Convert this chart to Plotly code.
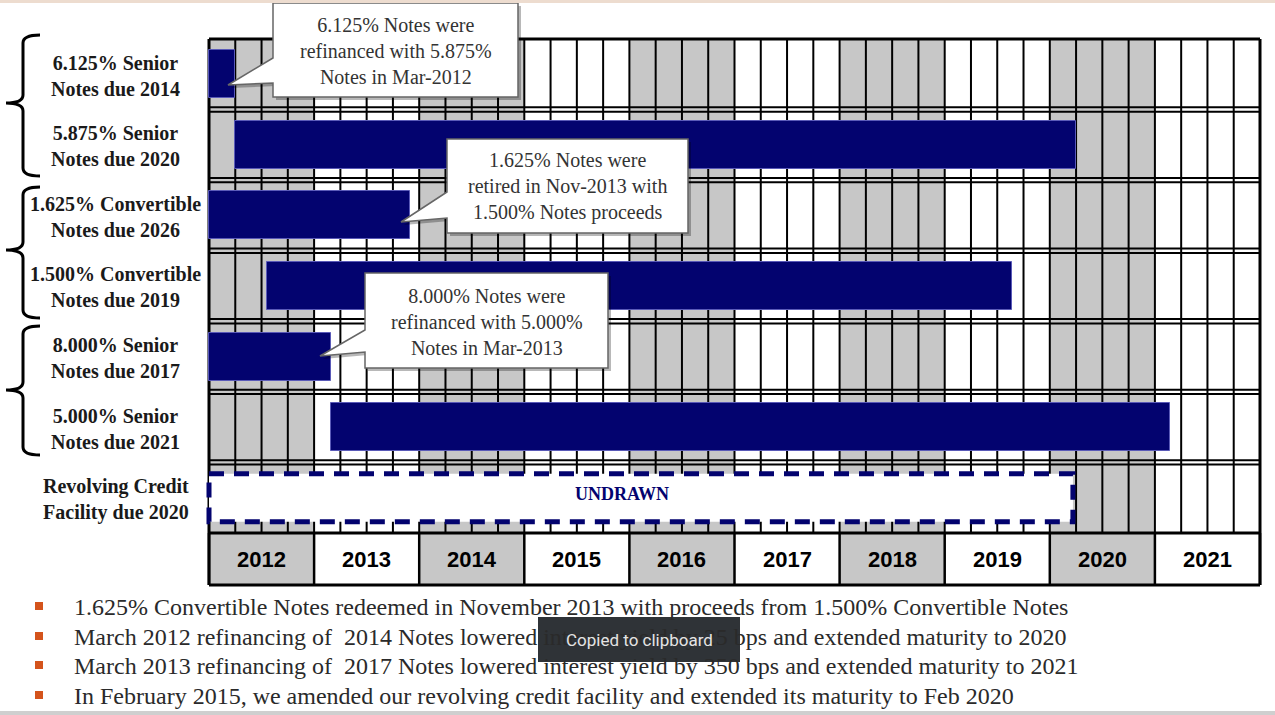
import plotly.graph_objects as go

# ---------------- data ----------------
row_labels = [
    "6.125% Senior<br>Notes due 2014",
    "5.875% Senior<br>Notes due 2020",
    "1.625% Convertible<br>Notes due 2026",
    "1.500% Convertible<br>Notes due 2019",
    "8.000% Senior<br>Notes due 2017",
    "5.000% Senior<br>Notes due 2021",
    "Revolving Credit<br>Facility due 2020",
]
note_rows = [0, 1, 2, 3, 4, 5]
note_start = [2012.0, 2012.25, 2012.0, 2012.55, 2012.0, 2013.16]
note_end = [2012.25, 2020.25, 2013.91, 2019.64, 2013.16, 2021.14]
revolver_row = 6
revolver_start = 2012.0
revolver_end = 2020.22
revolver_label = "UNDRAWN"
years = list(range(2012, 2022))
quarters_per_year = 4

callout_texts = [
    "6.125% Notes were<br>refinanced with 5.875%<br>Notes in Mar-2012",
    "1.625% Notes were<br>retired in Nov-2013 with<br>1.500% Notes proceeds",
    "8.000% Notes were<br>refinanced with 5.000%<br>Notes in Mar-2013",
]
bullets = [
    "1.625% Convertible Notes redeemed in November 2013 with proceeds from 1.500% Convertible Notes",
    "March 2012 refinancing of  2014 Notes lowered interest yield by 25 bps and extended maturity to 2020",
    "March 2013 refinancing of  2017 Notes lowered interest yield by 350 bps and extended maturity to 2021",
    "In February 2015, we amended our revolving credit facility and extended its maturity to Feb 2020",
]
toast_text = "Copied to clipboard"

# ---------------- layout constants ----------------
W, H = 1275, 715
X0_PX, X1_PX = 209, 1260
ROW_TOP_PX, ROW_H_PX = 39, 70.57
HDR_BOT_PX = 585
NAVY = "#03036f"
GRAY = "#c7c7c7"
SERIF = "Liberation Serif"
SANS = "Liberation Sans"

ppy = (X1_PX - X0_PX) / len(years)


def xd(px):
    return years[0] + (px - X0_PX) / ppy


def yd(py):
    return (py - ROW_TOP_PX) / ROW_H_PX - 0.5


def px(x):
    return x / W


def py(y):
    return 1 - y / H


nrows = len(row_labels)
grid_bottom = nrows - 0.5
hdr_bottom = yd(HDR_BOT_PX)
yend = years[-1] + 1

fig = go.Figure()

# bars
fig.add_trace(go.Bar(
    orientation="h",
    y=note_rows,
    x=[e - s for s, e in zip(note_start, note_end)],
    base=note_start,
    width=0.68,
    marker=dict(color=NAVY, line=dict(color="#5a5ab8", width=1)),
    hoverinfo="skip",
))

# revolver (undrawn, dashed outline)
hh = 0.34
fig.add_trace(go.Scatter(
    x=[revolver_start, revolver_end, revolver_end, revolver_start, revolver_start],
    y=[revolver_row - hh, revolver_row - hh, revolver_row + hh, revolver_row + hh, revolver_row - hh],
    mode="lines", fill="toself", fillcolor="white",
    line=dict(color=NAVY, width=5, dash="15px,10px"),
    hoverinfo="skip",
))

shapes = []
# shaded even years (grid body + header)
for i, yr in enumerate(years):
    if i % 2 == 0:
        shapes.append(dict(type="rect", xref="x", yref="y", x0=yr, x1=yr + 1, y0=-0.5, y1=hdr_bottom,
                           fillcolor=GRAY, line=dict(width=0), layer="below"))
# quarter vertical lines in body
for k in range(len(years) * quarters_per_year + 1):
    xq = years[0] + k / quarters_per_year
    shapes.append(dict(type="line", xref="x", yref="y", x0=xq, x1=xq, y0=-0.5, y1=grid_bottom,
                       line=dict(color="black", width=2), layer="below"))
# year vertical lines in header
for yr in years + [yend]:
    shapes.append(dict(type="line", xref="x", yref="y", x0=yr, x1=yr, y0=grid_bottom, y1=hdr_bottom,
                       line=dict(color="black", width=2.5), layer="below"))
# double horizontal lines between rows
off = 2.2 / ROW_H_PX
for r in range(nrows - 1):
    for d in (-off, off):
        shapes.append(dict(type="line", xref="x", yref="y", x0=years[0], x1=yend, y0=r + 0.5 + d, y1=r + 0.5 + d,
                           line=dict(color="black", width=2), layer="below"))
# outer borders
for yy in (-0.5, grid_bottom, hdr_bottom):
    shapes.append(dict(type="line", xref="x", yref="y", x0=years[0], x1=yend, y0=yy, y1=yy,
                       line=dict(color="black", width=3), layer="below"))
for xx in (years[0], yend):
    shapes.append(dict(type="line", xref="x", yref="y", x0=xx, x1=xx, y0=-0.5, y1=hdr_bottom,
                       line=dict(color="black", width=3), layer="below"))

# braces on the left
def brace(top, mid, bot, xs=23, xt=6, xe=40):
    c = 8
    return (f"M {px(xe)},{py(top)} Q {px(xs)},{py(top)} {px(xs)},{py(top + c)} "
            f"L {px(xs)},{py(mid - c)} Q {px(xs)},{py(mid)} {px(xt)},{py(mid)} "
            f"Q {px(xs)},{py(mid)} {px(xs)},{py(mid + c)} "
            f"L {px(xs)},{py(bot - c)} Q {px(xs)},{py(bot)} {px(xe)},{py(bot)}")

for (t, m, b) in [(35, 103, 176), (187, 250, 318), (326, 390, 455)]:
    shapes.append(dict(type="path", xref="paper", yref="paper", path=brace(t, m, b),
                       line=dict(color="black", width=3)))

# callouts (pixel layout)
callouts = [
    dict(L=273, T=3, R=518, B=97, up=58, tip=(228, 85), lo=83),
    dict(L=447, T=139, R=688, B=233, up=192, tip=(401, 222), lo=218),
    dict(L=365, T=273, R=608, B=368, up=330, tip=(320, 356), lo=352),
]


def callout_path(c, dx=0, dy=0):
    L, T, R, B = c["L"] + dx, c["T"] + dy, c["R"] + dx, c["B"] + dy
    tx, ty = c["tip"][0] + dx, c["tip"][1] + dy
    return (f"M {px(L)},{py(T)} L {px(R)},{py(T)} L {px(R)},{py(B)} L {px(L)},{py(B)} "
            f"L {px(L)},{py(c['lo'] + dy)} L {px(tx)},{py(ty)} L {px(L)},{py(c['up'] + dy)} Z")

annotations = []
for c, txt in zip(callouts, callout_texts):
    shapes.append(dict(type="path", xref="paper", yref="paper", path=callout_path(c, 3, 3),
                       fillcolor="rgba(0,0,0,0.28)", line=dict(width=0)))
    shapes.append(dict(type="path", xref="paper", yref="paper", path=callout_path(c),
                       fillcolor="white", line=dict(color="#666666", width=1.5)))
    annotations.append(dict(xref="paper", yref="paper", x=px((c["L"] + c["R"]) / 2),
                            y=py((c["T"] + c["B"]) / 2 + 1), text=txt, showarrow=False,
                            xanchor="center", yanchor="middle",
                            font=dict(family=SERIF, size=20, color="#333333"), align="center"))

# row labels
for r, lab in enumerate(row_labels):
    annotations.append(dict(xref="paper", yref="y", x=px(116), y=r + 0.02, text=f"<b>{lab}</b>",
                            showarrow=False, xanchor="center", yanchor="middle",
                            font=dict(family=SERIF, size=20, color="#1a1a1a"),
                            align="center"))

# year labels
for yr in years:
    annotations.append(dict(xref="x", yref="y", x=yr + 0.5, y=(grid_bottom + hdr_bottom) / 2,
                            text=f"<b>{yr}</b>", showarrow=False, xanchor="center", yanchor="middle",
                            font=dict(family=SANS, size=22, color="black")))

# undrawn label
annotations.append(dict(xref="x", yref="y", x=xd(622), y=revolver_row - 0.05, text=f"<b>{revolver_label}</b>",
                        showarrow=False, xanchor="center", yanchor="middle",
                        font=dict(family=SERIF, size=18, color=NAVY)))

# bullets
bullet_y = [607, 637, 666, 696]
for yb, txt in zip(bullet_y, bullets):
    shapes.append(dict(type="rect", xref="paper", yref="paper", x0=px(35), x1=px(43),
                       y0=py(yb + 3), y1=py(yb - 5), fillcolor="#d4541c", line=dict(width=0)))
    annotations.append(dict(xref="paper", yref="paper", x=px(72), y=py(yb), xanchor="left", yanchor="middle",
                            text=txt, showarrow=False,
                            font=dict(family=SERIF, size=24, color="#2a2a2a")))

# top / bottom page strips
shapes.append(dict(type="rect", xref="paper", yref="paper", x0=0, x1=1, y0=py(3), y1=1,
                   fillcolor="#eddccf", line=dict(width=0)))
shapes.append(dict(type="rect", xref="paper", yref="paper", x0=0, x1=1, y0=0, y1=py(711),
                   fillcolor="#cfcfcf", line=dict(width=0)))

# toast
shapes.append(dict(type="rect", xref="paper", yref="paper", x0=px(538), x1=px(740), y0=py(662), y1=py(617),
                   fillcolor="#2f3337", line=dict(width=0)))
annotations.append(dict(xref="paper", yref="paper", x=px(639), y=py(640), text=toast_text, showarrow=False,
                        xanchor="center", yanchor="middle",
                        font=dict(family="Roboto", size=17, color="#e4e4e4")))

fig.update_layout(
    width=W, height=H,
    margin=dict(l=0, r=0, t=0, b=0),
    paper_bgcolor="white", plot_bgcolor="white",
    showlegend=False,
    bargap=0,
    shapes=shapes,
    annotations=annotations,
    xaxis=dict(range=[xd(0), xd(W)], domain=[0, 1], visible=False, fixedrange=True),
    yaxis=dict(range=[yd(H), yd(0)], domain=[0, 1], visible=False, fixedrange=True),
)

fig.write_html("out.html")
